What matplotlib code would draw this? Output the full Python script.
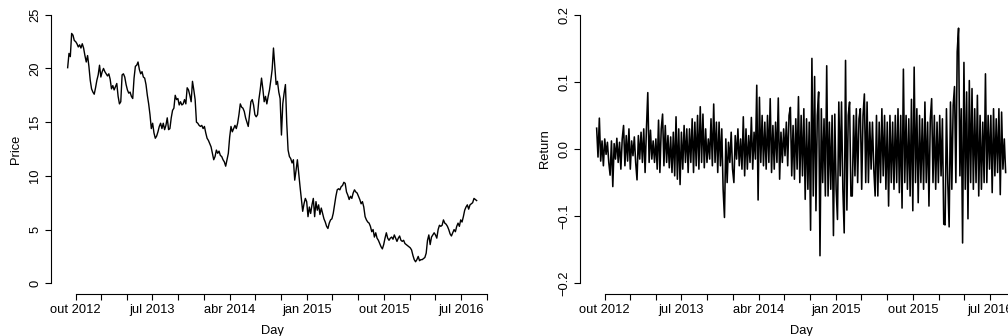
import matplotlib
matplotlib.use("Agg")
import matplotlib.pyplot as plt
import matplotlib.dates as mdates
import pandas as pd
import numpy as np

plt.rcParams['font.family'] = ['Liberation Sans', 'DejaVu Sans']

# ---- data ----
start_day = "2012-09-03"
end_day = "2016-08-26"

price = [
    20.07, 21.4, 21.1, 23.26, 23.1, 22.6, 22.5, 22.3, 22.0, 22.2, 21.9, 22.3, 21.9, 21.2, 20.6, 21.2,
    20.2, 18.9, 18.1, 17.8, 17.6, 18.2, 18.9, 19.4, 20.3, 19.2, 19.7, 20.0, 19.7, 19.5, 19.3, 19.5,
    19.0, 18.1, 18.4, 18.0, 18.3, 18.6, 17.4, 16.7, 16.9, 19.4, 19.5, 19.2, 18.5, 18.0, 17.7, 17.8,
    17.4, 17.2, 19.1, 20.2, 20.3, 20.6, 19.9, 19.5, 19.7, 19.2, 19.1, 18.5, 17.5, 16.7, 15.7, 14.4,
    14.9, 14.0, 13.5, 13.7, 14.1, 14.6, 14.9, 14.4, 14.9, 14.3, 14.7, 15.4, 14.3, 14.4, 15.4, 16.1,
    16.3, 17.5, 17.1, 17.2, 16.6, 16.9, 16.6, 16.7, 17.1, 16.7, 18.2, 18.0, 17.5, 16.9, 18.8, 18.0,
    17.1, 15.0, 14.9, 14.7, 14.6, 14.7, 14.4, 14.6, 14.0, 13.5, 13.3, 13.0, 12.7, 12.1, 11.5, 11.8,
    12.4, 12.1, 12.3, 11.9, 11.8, 11.5, 11.3, 10.9, 11.5, 12.1, 13.6, 14.6, 14.1, 14.4, 14.7, 14.4,
    14.9, 15.7, 16.7, 16.4, 16.3, 16.0, 15.4, 15.0, 14.6, 15.8, 16.9, 17.1, 16.6, 15.7, 15.5, 15.7,
    17.1, 18.0, 19.1, 18.1, 16.9, 17.4, 16.7, 17.4, 18.0, 18.9, 19.9, 21.9, 20.2, 18.5, 18.8, 17.8,
    17.2, 13.8, 16.7, 17.7, 18.5, 14.9, 12.4, 11.8, 11.6, 11.2, 11.5, 9.6, 10.5, 11.5, 10.2, 9.0,
    7.8, 6.7, 7.4, 7.9, 7.6, 6.2, 7.1, 6.5, 7.3, 7.9, 6.2, 7.6, 6.8, 7.3, 6.4, 7.0,
    6.5, 6.0, 5.7, 5.3, 5.1, 5.6, 5.9, 6.0, 6.5, 7.3, 8.1, 8.7, 8.8, 8.7, 9.0, 9.1,
    9.4, 9.3, 8.5, 8.2, 7.8, 8.1, 7.9, 8.4, 8.7, 8.5, 8.4, 8.1, 7.8, 7.4, 7.6, 7.1,
    6.2, 5.9, 5.7, 5.6, 5.3, 4.8, 5.0, 4.3, 4.7, 4.2, 4.0, 3.7, 3.4, 3.2, 3.6, 4.2,
    4.7, 4.2, 4.0, 4.2, 4.3, 4.1, 4.5, 4.2, 3.9, 4.2, 4.4, 4.0, 3.9, 4.0, 3.7, 3.6,
    3.5, 3.4, 3.3, 3.1, 2.6, 2.2, 2.0, 2.2, 2.5, 2.1, 2.2, 2.2, 2.3, 2.4, 2.8, 4.0,
    4.5, 3.6, 4.3, 4.5, 4.7, 4.5, 4.2, 5.0, 5.4, 5.3, 5.4, 5.9, 5.6, 5.5, 5.3, 5.0,
    4.6, 4.4, 4.7, 5.0, 4.8, 5.3, 5.6, 5.3, 5.9, 5.7, 6.2, 6.8, 7.1, 7.3, 6.9, 7.3,
    7.4, 7.5, 7.9, 7.8, 7.7,
]

returns = [
    0.031, -0.012, 0.046, -0.018, 0.012, -0.025, 0.015, -0.008, 0.01, -0.02,
    -0.039, 0.012, -0.056, 0.008, -0.015, 0.016, -0.02, 0.01, -0.03, 0.015,
    0.035, -0.025, 0.02, -0.018, 0.03, -0.03, 0.012, -0.01, 0.018, -0.02,
    -0.046, 0.02, -0.015, 0.025, -0.02, 0.03, -0.035, 0.03, 0.084, -0.02,
    0.028, -0.015, 0.012, -0.02, 0.015, -0.03, 0.043, -0.035, 0.03, 0.052,
    -0.025, 0.035, -0.02, 0.02, -0.028, 0.018, -0.035, 0.025, -0.04, 0.048,
    -0.045, 0.03, -0.053, 0.025, -0.03, 0.035, -0.02, 0.03, -0.035, 0.03,
    -0.02, 0.045, -0.035, 0.04, -0.025, 0.05, -0.03, 0.063, -0.02, 0.052,
    -0.028, 0.03, -0.02, 0.015, -0.015, 0.045, -0.025, 0.067, -0.02, 0.04,
    -0.035, 0.04, -0.025, 0.03, -0.06, -0.102, 0.015, -0.05, 0.01, -0.02,
    0.025, -0.03, -0.05, 0.02, -0.015, 0.03, -0.025, 0.015, -0.03, 0.048,
    -0.04, 0.03, -0.03, 0.02, -0.02, 0.047, -0.03, 0.025, -0.015, 0.095,
    -0.076, 0.077, -0.02, 0.05, -0.025, 0.04, -0.03, 0.05, -0.02, 0.075,
    -0.035, 0.035, -0.03, 0.04, -0.02, 0.076, -0.045, 0.025, -0.02, 0.03,
    -0.01, 0.04, -0.025, 0.05, 0.062, -0.04, 0.035, -0.045, 0.045, -0.03,
    0.078, -0.05, 0.05, -0.04, 0.06, -0.075, 0.045, -0.06, 0.04, -0.121,
    0.135, -0.07, 0.108, -0.092, 0.05, 0.085, -0.159, 0.06, -0.05, 0.045,
    -0.07, 0.124, -0.07, 0.04, -0.06, 0.05, -0.129, 0.052, -0.06, -0.105,
    0.07, -0.04, 0.07, -0.06, -0.125, 0.132, -0.091, 0.05, 0.07, -0.07,
    -0.07, 0.05, -0.04, 0.06, -0.05, 0.045, 0.06, -0.06, 0.05, 0.082,
    -0.05, 0.07, -0.05, 0.04, -0.03, 0.04, -0.03, -0.07, 0.05, -0.07,
    0.04, -0.05, 0.06, -0.04, 0.05, -0.06, 0.04, -0.085, 0.05, -0.05,
    0.04, -0.06, 0.05, -0.05, 0.06, -0.065, 0.05, -0.088, 0.119, -0.05,
    0.05, -0.06, 0.045, -0.07, 0.074, -0.092, 0.122, -0.05, 0.06, -0.08,
    0.05, -0.05, 0.045, -0.06, 0.07, -0.05, 0.04, -0.085, 0.045, 0.075,
    -0.05, 0.05, -0.06, 0.04, -0.05, 0.05, -0.04, 0.045, -0.112, -0.113,
    0.06, -0.05, -0.116, 0.07, -0.06, 0.065, 0.093, -0.05, 0.145, 0.18,
    -0.04, 0.06, -0.14, 0.129, -0.06, 0.085, -0.104, 0.102, -0.05, 0.09,
    -0.06, 0.06, -0.05, 0.08, -0.07, 0.05, -0.06, 0.04, -0.05, 0.112,
    -0.05, 0.05, -0.03, 0.05, -0.065, 0.06, -0.04, 0.045, -0.035, 0.06,
    -0.068, 0.055, -0.03, 0.015, -0.035,
]

tick_start = "2012-10-01"
tick_end = "2016-10-01"
tick_labels = ["out 2012", "", "", "jul 2013", "", "", "abr 2014", "", "",
               "jan 2015", "", "", "out 2015", "", "", "jul 2016", ""]
price_yticks = [0, 5, 10, 15, 20, 25]
ret_yticks = [-0.2, -0.1, 0.0, 0.1, 0.2]
ret_yticklabels = ["\u22120.2", "\u22120.1", "0.0", "0.1", "0.2"]

# ---- figure ----
W, H = 1008, 336
fig = plt.figure(figsize=(W / 100, H / 100), dpi=100)

price_days = pd.date_range(start_day, end_day, periods=len(price))
ret_days = pd.date_range(start_day, end_day, periods=len(returns))
ticks = pd.date_range(tick_start, tick_end, freq="QS")

FS = 9.3

def style(ax, days, ylim_lo, ylim_hi, yticks, ylabels, ylab):
    x0 = mdates.date2num(days[0]); x1 = mdates.date2num(days[-1])
    pad = 0.04 * (x1 - x0)
    ax.set_xlim(x0 - pad, x1 + pad)
    ypad = 0.04 * (ylim_hi - ylim_lo)
    ax.set_ylim(ylim_lo - ypad, ylim_hi + ypad)
    for s in ["top", "right"]:
        ax.spines[s].set_visible(False)
    ax.spines["left"].set_bounds(ylim_lo, ylim_hi)
    tnum = mdates.date2num(ticks)
    ax.spines["bottom"].set_bounds(tnum[0], tnum[-1])
    for s in ["left", "bottom"]:
        ax.spines[s].set_linewidth(0.8)
    ax.set_xticks(tnum)
    ax.set_xticklabels(tick_labels)
    ax.set_yticks(yticks)
    ax.set_yticklabels(ylabels, rotation=90, va="center")
    ax.tick_params(axis="both", direction="out", length=4.3, width=0.8,
                   labelsize=FS, colors="black")
    ax.tick_params(axis="x", pad=3.0)
    ax.tick_params(axis="y", pad=3.0)
    ax.set_xlabel("Day", fontsize=FS, labelpad=6.5)
    ax.set_ylabel(ylab, fontsize=FS, labelpad=5)

axL = fig.add_axes([51.3 / W, 42 / H, 441.7 / W, 290 / H])
axL.plot(price_days, price, color="black", lw=1.0)
style(axL, price_days, 0, 25, price_yticks, [str(v) for v in price_yticks], "Price")

axR = fig.add_axes([580.3 / W, 42 / H, 441.7 / W, 290 / H])
axR.plot(ret_days, returns, color="black", lw=1.15)
style(axR, ret_days, -0.2, 0.2, ret_yticks, ret_yticklabels, "Return")

fig.savefig("out.png", dpi=100)
